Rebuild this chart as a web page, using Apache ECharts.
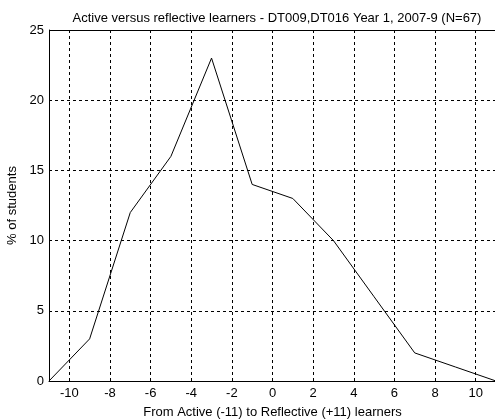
<!DOCTYPE html>
<html>
<head>
<meta charset="utf-8">
<script src="https://cdn.jsdelivr.net/npm/echarts@6/dist/echarts.min.js"></script>
<style>
  html, body { margin: 0; padding: 0; background: #fff; }
  #chart { width: 495px; height: 420px; }
</style>
</head>
<body>
<div id="chart"></div>
<script>
// Scores on the active/reflective scale and share of students at each score
const scores = [-11, -9, -7, -5, -3, -1, 1, 3, 5, 7, 9, 11];
const percentStudents = [0, 3, 12, 16, 23, 14, 13, 10, 6, 2, 1, 0];
const xTicks = [-10, -8, -6, -4, -2, 0, 2, 4, 6, 8, 10];
const yTicks = [0, 5, 10, 15, 20, 25];

const font = 'Liberation Sans, Arial, sans-serif';
const chart = echarts.init(document.getElementById('chart'));

chart.setOption({
  animation: false,
  backgroundColor: '#fff',
  title: {
    text: 'Active versus reflective learners - DT009,DT016 Year 1, 2007-9 (N=67)',
    left: 272, top: 7, textAlign: 'center',
    textStyle: { fontFamily: font, fontSize: 13, fontWeight: 'normal', color: '#000' }
  },
  grid: { left: 49, right: -1, top: 30, bottom: 39, outerBoundsMode: 'none', containLabel: false },
  xAxis: {
    type: 'value', min: -11, max: 11,
    name: 'From Active (-11) to Reflective (+11) learners',
    nameLocation: 'middle', nameGap: 25,
    nameTextStyle: { fontFamily: font, fontSize: 13, color: '#000' },
    axisLine: { show: true, onZero: false, lineStyle: { color: '#000', width: 1 } },
    axisTick: { show: false },
    axisLabel: {
      fontFamily: font, fontSize: 13, color: '#000', margin: 6,
      customValues: xTicks
    },
    splitLine: { show: false }
  },
  yAxis: {
    type: 'value', min: 0, max: 25, interval: 5,
    name: '% of students',
    nameLocation: 'middle', nameGap: 27,
    nameTextStyle: { fontFamily: font, fontSize: 13, color: '#000' },
    axisLine: { show: true, onZero: false, lineStyle: { color: '#000', width: 1 } },
    axisTick: { show: false },
    axisLabel: { fontFamily: font, fontSize: 13, color: '#000', margin: 5 },
    splitLine: { show: true, lineStyle: { color: '#000', type: [3, 3], width: 1 } }
  },
  series: [
    {
      // vertical dashed grid lines at the labelled x ticks
      type: 'line', silent: true, symbol: 'none', data: [],
      markLine: {
        silent: true, symbol: 'none', label: { show: false },
        lineStyle: { color: '#000', type: [3, 3], width: 1 },
        data: xTicks.map(v => ({ xAxis: v }))
      }
    },
    {
      // top border of the plot box
      type: 'line', silent: true, symbol: 'none', data: [],
      markLine: {
        silent: true, symbol: 'none', label: { show: false },
        lineStyle: { color: '#000', type: 'solid', width: 1 },
        data: [{ yAxis: yTicks[yTicks.length - 1] }]
      }
    },
    {
      type: 'line',
      data: scores.map((s, i) => [s, percentStudents[i]]),
      symbol: 'none',
      lineStyle: { color: '#000', width: 1 },
      z: 5
    }
  ]
});
</script>
</body>
</html>
